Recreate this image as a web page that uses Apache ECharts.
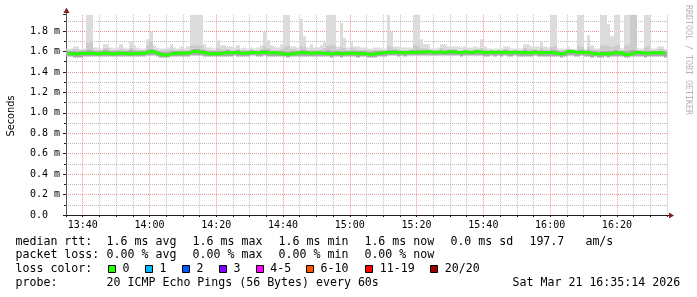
<!DOCTYPE html>
<html><head><meta charset="utf-8">
<script src="https://cdn.jsdelivr.net/npm/echarts@6/dist/echarts.min.js"></script>
<style>html,body{margin:0;padding:0;background:#fff}#c{width:697px;height:297px}</style>
</head><body><div id="c"></div>
<script>
// ---- time domain (minutes since midnight), one sample per minute from 13:35 ----
const startMinute = 815;
const endMinute = 995;

// ---- median RTT (ms) ----
const medianMs = [
1.580,1.580,1.575,1.575,1.580,1.580,1.580,1.585,1.580,1.575,
1.580,1.585,1.580,1.580,1.575,1.580,1.585,1.580,1.580,1.575,
1.580,1.580,1.585,1.580,1.595,1.600,1.595,1.585,1.570,1.565,
1.565,1.575,1.580,1.585,1.580,1.585,1.580,1.595,1.600,1.600,
1.595,1.590,1.580,1.575,1.580,1.575,1.580,1.585,1.590,1.585,
1.590,1.590,1.585,1.580,1.585,1.590,1.590,1.585,1.590,1.595,
1.590,1.585,1.590,1.585,1.580,1.575,1.570,1.575,1.580,1.585,
1.590,1.585,1.590,1.580,1.585,1.590,1.585,1.580,1.580,1.575,
1.580,1.585,1.575,1.580,1.585,1.580,1.585,1.575,1.580,1.580,
1.575,1.570,1.575,1.580,1.585,1.590,1.590,1.590,1.595,1.590,
1.590,1.585,1.590,1.595,1.590,1.595,1.590,1.595,1.600,1.595,
1.590,1.595,1.595,1.590,1.595,1.600,1.595,1.590,1.590,1.595,
1.595,1.590,1.595,1.600,1.595,1.590,1.590,1.595,1.590,1.595,
1.590,1.595,1.590,1.590,1.595,1.590,1.590,1.590,1.585,1.590,
1.595,1.590,1.585,1.590,1.590,1.590,1.585,1.580,1.575,1.580,
1.600,1.600,1.590,1.590,1.595,1.590,1.585,1.575,1.580,1.575,
1.575,1.580,1.575,1.585,1.590,1.585,1.590,1.570,1.570,1.585,
1.590,1.590,1.585,1.580,1.585,1.590,1.585,1.590,1.585,1.580];

// ---- smoke: fastest ping (ms) ----
const lowMs = [
1.55,1.55,1.54,1.54,1.54,1.55,1.55,1.55,1.55,1.55,
1.55,1.55,1.55,1.55,1.55,1.55,1.55,1.55,1.55,1.55,
1.55,1.55,1.55,1.55,1.56,1.56,1.56,1.55,1.54,1.54,
1.54,1.55,1.55,1.55,1.55,1.55,1.55,1.56,1.56,1.56,
1.56,1.55,1.55,1.55,1.55,1.55,1.55,1.55,1.55,1.55,
1.56,1.55,1.55,1.55,1.55,1.56,1.56,1.55,1.55,1.56,
1.55,1.55,1.55,1.55,1.55,1.55,1.54,1.55,1.55,1.55,
1.55,1.55,1.55,1.55,1.55,1.55,1.55,1.55,1.55,1.54,
1.55,1.55,1.54,1.55,1.55,1.55,1.55,1.54,1.55,1.55,
1.54,1.54,1.54,1.55,1.55,1.55,1.56,1.56,1.56,1.55,
1.56,1.55,1.56,1.56,1.56,1.56,1.56,1.56,1.56,1.56,
1.56,1.56,1.56,1.56,1.56,1.56,1.56,1.56,1.55,1.56,
1.56,1.56,1.56,1.56,1.56,1.55,1.55,1.56,1.55,1.56,
1.55,1.56,1.55,1.55,1.56,1.55,1.55,1.55,1.55,1.55,
1.56,1.55,1.55,1.55,1.55,1.55,1.55,1.55,1.54,1.55,
1.56,1.56,1.55,1.55,1.56,1.55,1.55,1.54,1.55,1.54,
1.54,1.55,1.54,1.55,1.55,1.55,1.55,1.54,1.54,1.55,
1.55,1.55,1.55,1.54,1.55,1.55,1.55,1.55,1.55,1.54];

// ---- smoke: upper edge of the dense inner pings (ms) ----
const innerMs = [
1.61,1.61,1.61,1.60,1.61,1.61,1.62,1.62,1.61,1.61,
1.61,1.62,1.62,1.61,1.61,1.61,1.61,1.61,1.61,1.62,
1.61,1.61,1.61,1.61,1.62,1.63,1.62,1.61,1.60,1.60,
1.60,1.61,1.61,1.61,1.61,1.61,1.61,1.62,1.63,1.63,
1.62,1.62,1.61,1.61,1.61,1.61,1.61,1.61,1.62,1.61,
1.61,1.62,1.61,1.61,1.61,1.62,1.61,1.61,1.62,1.62,
1.62,1.61,1.61,1.61,1.61,1.61,1.60,1.61,1.61,1.61,
1.62,1.62,1.61,1.61,1.61,1.61,1.61,1.61,1.62,1.61,
1.61,1.61,1.61,1.61,1.61,1.61,1.61,1.61,1.61,1.61,
1.60,1.60,1.61,1.61,1.61,1.61,1.62,1.62,1.62,1.61,
1.61,1.61,1.61,1.62,1.62,1.62,1.62,1.62,1.62,1.61,
1.61,1.61,1.62,1.61,1.62,1.62,1.62,1.61,1.61,1.61,
1.61,1.61,1.62,1.62,1.62,1.61,1.61,1.61,1.61,1.61,
1.61,1.62,1.61,1.61,1.61,1.61,1.61,1.62,1.61,1.61,
1.62,1.61,1.62,1.61,1.61,1.62,1.62,1.61,1.60,1.61,
1.62,1.62,1.61,1.62,1.62,1.61,1.62,1.61,1.61,1.60,
1.61,1.61,1.61,1.61,1.62,1.61,1.61,1.61,1.61,1.62,
1.62,1.61,1.61,1.61,1.61,1.61,1.61,1.61,1.61,1.60];

// ---- smoke: second slowest ping (ms) ----
const secondMs = [
1.62,1.62,1.63,1.63,1.62,1.62,1.69,1.70,1.62,1.62,
1.62,1.64,1.64,1.62,1.62,1.62,1.63,1.62,1.62,1.64,
1.63,1.62,1.62,1.62,1.66,1.70,1.63,1.62,1.62,1.62,
1.62,1.63,1.62,1.62,1.63,1.62,1.62,1.66,1.67,1.66,
1.66,1.63,1.62,1.62,1.62,1.64,1.63,1.63,1.63,1.62,
1.62,1.63,1.62,1.62,1.62,1.62,1.62,1.62,1.63,1.66,
1.64,1.63,1.62,1.62,1.63,1.65,1.66,1.63,1.63,1.62,
1.66,1.65,1.62,1.63,1.62,1.62,1.63,1.64,1.66,1.67,
1.66,1.63,1.65,1.64,1.62,1.64,1.63,1.62,1.62,1.62,
1.62,1.62,1.62,1.62,1.62,1.62,1.66,1.65,1.63,1.63,
1.62,1.62,1.62,1.62,1.67,1.66,1.64,1.64,1.63,1.62,
1.62,1.62,1.64,1.63,1.63,1.63,1.63,1.62,1.62,1.63,
1.62,1.62,1.63,1.62,1.64,1.63,1.62,1.62,1.62,1.62,
1.62,1.63,1.63,1.62,1.62,1.62,1.62,1.64,1.63,1.63,
1.63,1.62,1.64,1.63,1.62,1.65,1.66,1.62,1.62,1.62,
1.63,1.62,1.62,1.66,1.65,1.62,1.65,1.63,1.62,1.62,
1.66,1.67,1.66,1.65,1.66,1.67,1.62,1.66,1.67,1.96,
1.96,1.62,1.62,1.65,1.66,1.62,1.62,1.63,1.63,1.62];

// ---- smoke: slowest ping (ms) ----
const highMs = [
1.63,1.63,1.65,1.65,1.62,1.63,1.96,1.96,1.64,1.64,
1.63,1.67,1.67,1.64,1.63,1.64,1.67,1.64,1.63,1.70,
1.66,1.64,1.63,1.63,1.72,1.79,1.66,1.64,1.63,1.63,
1.64,1.67,1.64,1.63,1.65,1.63,1.65,1.96,1.96,1.96,
1.96,1.67,1.64,1.64,1.63,1.71,1.66,1.66,1.65,1.65,
1.64,1.66,1.63,1.64,1.63,1.64,1.63,1.64,1.66,1.79,
1.71,1.66,1.65,1.64,1.67,1.96,1.96,1.65,1.65,1.64,
1.92,1.75,1.64,1.67,1.64,1.64,1.66,1.69,1.96,1.96,
1.96,1.65,1.88,1.73,1.64,1.69,1.65,1.65,1.64,1.64,
1.63,1.63,1.64,1.64,1.63,1.63,1.96,1.79,1.65,1.65,
1.64,1.64,1.64,1.64,1.96,1.96,1.72,1.67,1.67,1.63,
1.63,1.64,1.67,1.67,1.65,1.65,1.65,1.65,1.64,1.65,
1.64,1.64,1.65,1.64,1.72,1.65,1.63,1.63,1.63,1.63,
1.63,1.65,1.65,1.63,1.63,1.63,1.63,1.67,1.67,1.65,
1.65,1.65,1.70,1.65,1.64,1.96,1.96,1.63,1.63,1.63,
1.65,1.62,1.62,1.96,1.96,1.62,1.76,1.66,1.63,1.63,
1.96,1.96,1.87,1.75,1.96,1.96,1.63,1.96,1.96,1.96,
1.96,1.63,1.63,1.96,1.96,1.63,1.63,1.65,1.65,1.62];

// ---- axis / legend texts ----
const yTicks = [0, 0.2, 0.4, 0.6, 0.8, 1.0, 1.2, 1.4, 1.6, 1.8];
const yName = 'Seconds';
const statsRtt = ['median rtt:', '1.6 ms avg', '1.6 ms max', '1.6 ms min', '1.6 ms now', '0.0 ms sd', '197.7', 'am/s'];
const statsLoss = ['packet loss:', '0.00 % avg', '0.00 % max', '0.00 % min', '0.00 % now'];
const lossTitle = 'loss color:';
const lossLabels = ['0', '1', '2', '3', '4-5', '6-10', '11-19', '20/20'];
const lossColors = ['#26ff00', '#00b8ff', '#0059ff', '#7e00ff', '#ff00ff', '#ff5500', '#ff0000', '#a10000'];
const probeLine = ['probe:', '20 ICMP Echo Pings (56 Bytes) every 60s', 'Sat Mar 21 16:35:14 2026'];
const watermark = 'RRDTOOL / TOBI OETIKER';

// ---- layout ----
const G = { left: 66, top: 14.7, width: 601, height: 200.3 };
const MONO = '"DejaVu Sans Mono", "Liberation Mono", monospace';
const legendFont = '11.6px ' + MONO;
const smokeColors = ['#ababab', '#cbcbcb', '#dcdcdc'];

const minutes = medianMs.map((_, i) => startMinute + i + 0.5);

function hhmm(v) {
  const h = Math.floor(v / 60), m = Math.round(v % 60);
  return String(h).padStart(2, '0') + ':' + String(m).padStart(2, '0');
}

const chart = echarts.init(document.getElementById('c'), null, { renderer: 'canvas' });

const graphics = [];
function txt(x, y, s, font, extra) {
  graphics.push(Object.assign({ type: 'text', x: x, y: y, silent: true,
    style: { text: s, font: font, fill: '#000', align: 'left', verticalAlign: 'middle', textAlign: 'left', textVerticalAlign: 'middle' } }, extra || {}));
}
const rttX = [15.5, 106.6, 192.6, 278.6, 364.4, 450.4, 529.4, 585.4];
statsRtt.forEach((s, i) => txt(rttX[i], 241.5, s, legendFont));
const lossX = [15.5, 106.6, 192.6, 278.6, 364.4];
statsLoss.forEach((s, i) => txt(lossX[i], 255, s, legendFont));
txt(15.5, 269, lossTitle, legendFont);
const boxX = [108.5, 145.5, 182.5, 219.5, 256.5, 306.5, 365.5, 430.5];
const lblX = [122.6, 159.4, 196.4, 233.4, 270.2, 320.6, 379.8, 444.8];
lossLabels.forEach((s, i) => {
  graphics.push({ type: 'rect', silent: true, shape: { x: boxX[i], y: 265.5, width: 7, height: 7 },
    style: { fill: lossColors[i], stroke: '#000', lineWidth: 1 } });
  txt(lblX[i], 269, s, legendFont);
});
const probeX = [15.5, 106.6, 512.6];
probeLine.forEach((s, i) => txt(probeX[i], 283, s, legendFont));
graphics.push({ type: 'text', x: 11, y: 116, rotation: Math.PI / 2, silent: true,
  style: { text: yName, font: '9.8px "DejaVu Sans", sans-serif', fill: '#000', align: 'center', verticalAlign: 'middle', textAlign: 'center', textVerticalAlign: 'middle' } });
graphics.push({ type: 'text', x: 688, y: 60, rotation: -Math.PI / 2, silent: true,
  style: { text: watermark, font: '8.3px ' + MONO, fill: '#b4b4b4', align: 'center', verticalAlign: 'middle', textAlign: 'center', textVerticalAlign: 'middle' } });
const xL = G.left, yB = G.top + G.height, xR = G.left + G.width;
graphics.push({ type: 'line', silent: true, shape: { x1: xL + 0.5, y1: G.top, x2: xL + 0.5, y2: 11 }, style: { stroke: '#555', lineWidth: 1 } });
graphics.push({ type: 'polygon', silent: true, shape: { points: [[xL + 0.5, 7.5], [xL - 2.5, 13], [xL + 3.5, 13]] }, style: { fill: '#801f1f' } });
graphics.push({ type: 'line', silent: true, shape: { x1: xR, y1: yB + 0.5, x2: xR + 3, y2: yB + 0.5 }, style: { stroke: '#1f1f1f', lineWidth: 1 } });
graphics.push({ type: 'polygon', silent: true, shape: { points: [[xR + 7, yB + 0.5], [xR + 2, yB - 2.5], [xR + 2, yB + 3.5]] }, style: { fill: '#801f1f' } });

function renderSmoke(params, api) {
  const x = api.value(0);
  const half = api.size([0.5, 0])[0];
  const pts = [1, 2, 3, 4].map(d => api.coord([x, api.value(d)]));
  const left = Math.round(pts[0][0] - half);
  const right = Math.round(pts[0][0] + half);
  const children = [];
  for (let k = 0; k < 3; k++) {
    const yBot = pts[k][1], yTop = pts[k + 1][1];
    if (yBot - yTop <= 0) continue;
    children.push({ type: 'rect', shape: { x: left, y: yTop, width: right - left, height: yBot - yTop },
      style: { fill: smokeColors[k] } });
  }
  return { type: 'group', children: children };
}

const option = {
  backgroundColor: '#ffffff',
  animation: false,
  grid: { left: G.left, top: G.top, width: G.width, height: G.height, containLabel: false, outerBoundsMode: 'none' },
  xAxis: {
    type: 'value', min: startMinute, max: endMinute, interval: 5,
    axisLine: { show: true, onZero: false, lineStyle: { color: '#1f1f1f', width: 1 } },
    axisTick: { show: true, length: 2, lineStyle: { color: '#1f1f1f' } },
    axisLabel: { show: true, formatter: v => (Math.round(v) % 20 === 0 ? hhmm(v) : ''), fontFamily: MONO, fontSize: 10, color: '#000', margin: 5, hideOverlap: false },
    splitLine: { show: true, lineStyle: { color: ['rgba(143,143,143,0.6)', 'rgba(222,79,79,0.6)', 'rgba(143,143,143,0.6)', 'rgba(143,143,143,0.6)'], type: [1, 1], width: 1 } }
  },
  yAxis: {
    type: 'value', min: 0, max: 1.96, interval: 0.2,
    axisLine: { show: true, lineStyle: { color: '#555', width: 1 } },
    axisTick: { show: true, length: 3, lineStyle: { color: '#1f1f1f' } },
    minorTick: { show: true, splitNumber: 2, length: 2, lineStyle: { color: '#1f1f1f' } },
    axisLabel: { show: true, showMaxLabel: false, fontFamily: MONO, fontSize: 10, color: '#000', margin: 6,
      formatter: v => { const t = yTicks.find(k => Math.abs(k - v) < 1e-6); if (t === undefined) return ''; return t === 0 ? '0.0\u00a0\u00a0' : t.toFixed(1) + ' m'; } },
    splitLine: { show: true, showMinLine: false, showMaxLine: false, lineStyle: { color: 'rgba(222,79,79,0.6)', type: [1, 1], width: 1 } },
    minorSplitLine: { show: true, lineStyle: { color: 'rgba(143,143,143,0.6)', type: [1, 1], width: 1 } }
  },
  series: [
    { type: 'custom', name: 'smoke', renderItem: renderSmoke, clip: true, silent: true,
      data: minutes.map((m, i) => [m, lowMs[i], innerMs[i], secondMs[i], highMs[i]]),
      encode: { x: 0, y: [1, 2, 3, 4] } },
    { type: 'line', name: 'median', data: minutes.map((m, i) => [m, medianMs[i]]), step: 'middle', symbol: 'none', showSymbol: false, silent: true, z: 5,
      lineStyle: { color: '#26ff00', width: 3 } }
  ],
  graphic: graphics
};
chart.setOption(option);
</script>
</body></html>
